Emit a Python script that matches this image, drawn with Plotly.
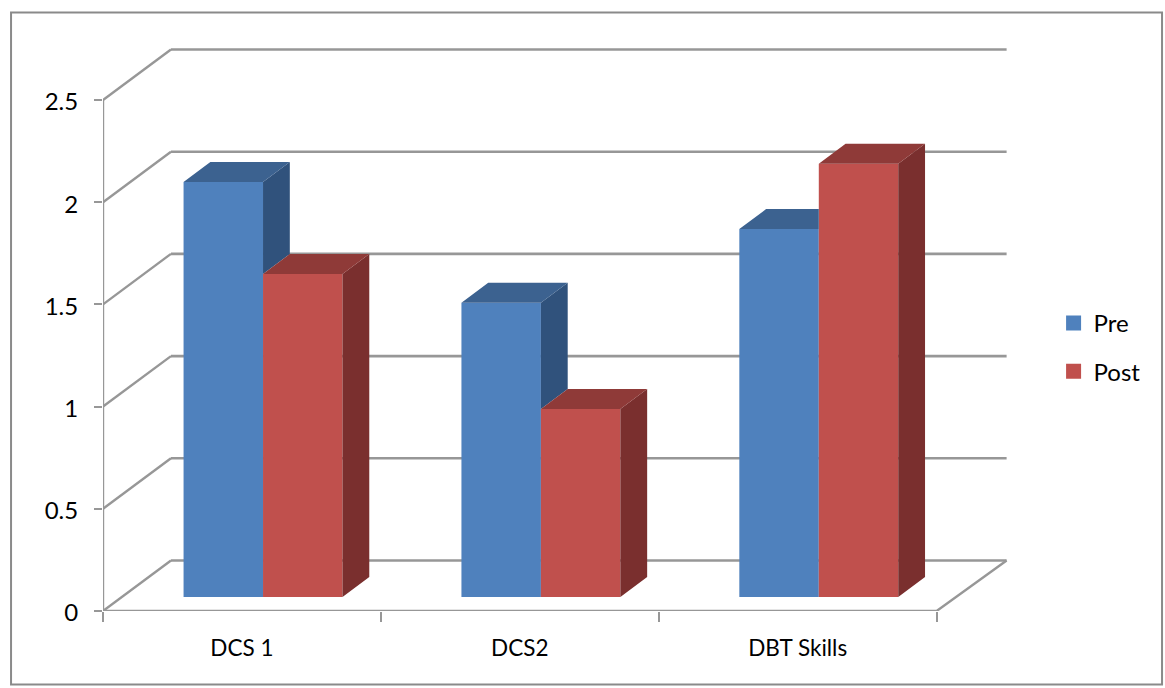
import plotly.graph_objects as go

# ---- data ----
categories = ["DCS 1", "DCS2", "DBT Skills"]
pre_values = [2.03, 1.44, 1.80]
post_values = [1.58, 0.92, 2.12]
y_ticks = [0, 0.5, 1, 1.5, 2, 2.5]
y_tick_labels = ["0", "0.5", "1", "1.5", "2", "2.5"]

# ---- pseudo-3D geometry, in axis units ----
PX_X, PX_Y = 278.0, 204.4          # pixels per axis unit
WALL_DX, WALL_DY = 68.0 / PX_X, 50.5 / PX_Y
WALL_END_DX = 70.0 / PX_X
BAR_DX, BAR_DY = 26.8 / PX_X, 20.0 / PX_Y
BASE = 14.0 / PX_Y
BAR_LEFT = 80.6 / PX_X
BAR_W = 79.5 / PX_X
GRID = "#979797"
FONT = "Lato"

X_RANGE = [0, 3.3]
Y_RANGE = [0, 572 / PX_Y]
W, H = 1165, 688
ML, MB = 103, 77
MR = W - ML - X_RANGE[1] * PX_X
MT = H - MB - Y_RANGE[1] * PX_Y


def paper_x(px):
    return (px - ML) / (W - ML - MR)


def paper_y(py):
    return 1 - (py - MT) / (H - MT - MB)


n = len(categories)
shapes = []
# back wall and left wall gridlines
for v in y_ticks:
    shapes.append(dict(type="line", xref="x", yref="y", layer="below",
                       x0=WALL_DX, x1=n + WALL_END_DX, y0=v + WALL_DY, y1=v + WALL_DY,
                       line=dict(color=GRID, width=2.6)))
    shapes.append(dict(type="line", xref="x", yref="y", layer="below",
                       x0=0, x1=WALL_DX, y0=v, y1=v + WALL_DY,
                       line=dict(color=GRID, width=2.4)))
# outer frame of the chart area
shapes.append(dict(type="rect", xref="paper", yref="paper", layer="below",
                   x0=paper_x(11), x1=paper_x(1162.5), y0=paper_y(684.5), y1=paper_y(12.5),
                   line=dict(color="#8a8a8a", width=2), fillcolor="rgba(0,0,0,0)"))


def polys(list_of_polys):
    xs, ys = [], []
    for poly in list_of_polys:
        for px, py in poly:
            xs.append(px)
            ys.append(py)
        xs.append(poly[0][0])
        ys.append(poly[0][1])
        xs.append(None)
        ys.append(None)
    return xs, ys


def face_trace(list_of_polys, color):
    xs, ys = polys(list_of_polys)
    return go.Scatter(x=xs, y=ys, mode="none", fill="toself", fillcolor=color,
                      showlegend=False, hoverinfo="skip")


traces = []
# axis frame (left axis, front floor edge, right floor edge)
axis_x = [0, 0, n, n + WALL_END_DX]
axis_y = [y_ticks[-1], 0, 0, WALL_DY]
traces.append(go.Scatter(x=axis_x, y=axis_y, mode="lines", cliponaxis=False,
                         line=dict(color=GRID, width=2.4), showlegend=False, hoverinfo="skip"))

# front faces: real bars
pre_left = [i + BAR_LEFT for i in range(n)]
post_left = [i + BAR_LEFT + BAR_W for i in range(n)]
traces.append(go.Bar(x=pre_left, y=pre_values, base=BASE, width=BAR_W, offset=0,
                     marker=dict(color="#4F81BD", line=dict(width=0)), showlegend=False, name="Pre"))
traces.append(go.Bar(x=post_left, y=post_values, base=BASE, width=BAR_W, offset=0,
                     marker=dict(color="#C0504D", line=dict(width=0)), showlegend=False, name="Post"))

# pre: side and top faces are only visible where the neighbouring post bar does not hide them
pre_side, pre_top = [], []
post_side, post_top = [], []
for i in range(n):
    xl, xr = pre_left[i], pre_left[i] + BAR_W
    top = pre_values[i] + BASE
    neighbour = post_values[i] + BASE
    if top > neighbour:
        pre_top.append([(xl, top), (xr, top), (xr + BAR_DX, top + BAR_DY), (xl + BAR_DX, top + BAR_DY)])
        pre_side.append([(xr, top), (xr + BAR_DX, top + BAR_DY),
                         (xr + BAR_DX, neighbour + BAR_DY), (xr, neighbour)])
    else:
        pre_top.append([(xl, top), (xr, top), (xr, top + BAR_DY), (xl + BAR_DX, top + BAR_DY)])
    xl, xr = post_left[i], post_left[i] + BAR_W
    top = neighbour
    post_top.append([(xl, top), (xr, top), (xr + BAR_DX, top + BAR_DY), (xl + BAR_DX, top + BAR_DY)])
    post_side.append([(xr, top), (xr + BAR_DX, top + BAR_DY),
                      (xr + BAR_DX, BASE + BAR_DY), (xr, BASE)])

traces.append(face_trace(pre_side, "#30527C"))
traces.append(face_trace(pre_top, "#3C6290"))
traces.append(face_trace(post_side, "#7A2F2E"))
traces.append(face_trace(post_top, "#8F3A38"))

# legend entries
traces.append(go.Scatter(x=[None], y=[None], mode="markers", name="Pre", legendgroup="pre",
                         marker=dict(symbol="square", size=15, color="#4F81BD")))
traces.append(go.Scatter(x=[None], y=[None], mode="markers", name="Post", legendgroup="post",
                         marker=dict(symbol="square", size=15, color="#C0504D")))

fig = go.Figure(traces)
fig.update_layout(
    width=W, height=H,
    margin=dict(l=ML, r=MR, t=MT, b=MB, pad=0, autoexpand=False),
    paper_bgcolor="white", plot_bgcolor="white",
    barmode="overlay",
    shapes=shapes,
    font=dict(family=FONT, color="black"),
    legend=dict(x=paper_x(1054), y=paper_y(301), xanchor="left", yanchor="top",
                font=dict(size=24, family=FONT, color="black"),
                tracegroupgap=14, bgcolor="rgba(0,0,0,0)", itemclick=False, itemdoubleclick=False),
    xaxis=dict(
        range=X_RANGE, showgrid=False, zeroline=False, showline=False,
        tickmode="array", tickvals=[i + 0.5 for i in range(n)], ticktext=categories,
        ticks="", ticklabelstandoff=21, tickfont=dict(size=22.5, family=FONT, color="black"),
        minor=dict(tickmode="array", tickvals=list(range(n + 1)), ticks="outside",
                   ticklen=10, tickwidth=2, tickcolor=GRID, showgrid=False),
    ),
    yaxis=dict(
        range=Y_RANGE, showgrid=False, zeroline=False, showline=False,
        tickmode="array", tickvals=y_ticks, ticktext=y_tick_labels,
        ticks="outside", ticklen=8, tickwidth=2, tickcolor=GRID,
        ticklabelstandoff=11, ticklabelshift=2, tickfont=dict(size=24, family=FONT, color="black"),
    ),
)

fig.write_html("out.html", config={"displayModeBar": False},
               post_script="document.body.style.margin='0';document.body.style.overflow='hidden';")
